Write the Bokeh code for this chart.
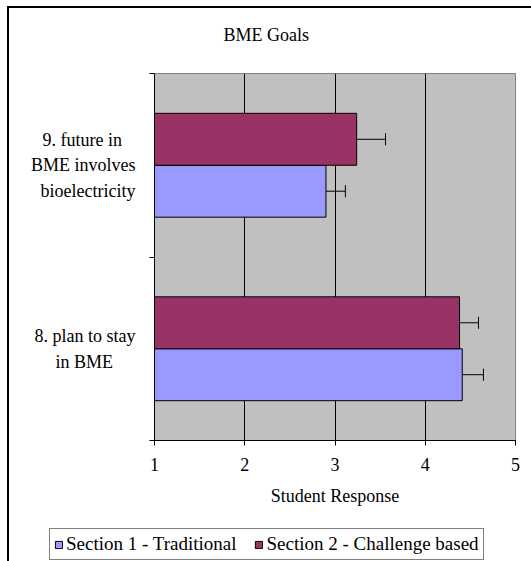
from bokeh.plotting import figure
from bokeh.layouts import column
from bokeh.models import (FactorRange, Range1d, LinearAxis, CategoricalAxis, FixedTicker,
                          ColumnDataSource, Whisker, TeeHead, Legend, LegendItem)
from bokeh.transform import dodge
from bokeh.embed import file_html
from bokeh.resources import INLINE

# ---- data ----
categories = ["8. plan to stay\nin BME", "9. future in\nBME involves\nbioelectricity"]
series_names = ["Section 1 - Traditional", "Section 2 - Challenge based"]
section1 = [4.41, 2.90]
section1_err = [0.235, 0.215]
section2 = [4.38, 3.24]
section2_err = [0.21, 0.32]
x_ticks = [1, 2, 3, 4, 5]
title_text = "BME Goals"
x_label = "Student Response"

FONT = "Liberation Serif"
BAR_H = 0.283
BLUE = "#9999FF"
MAROON = "#993366"
NB = "\u00a0"
# trailing no-break spaces so the right-anchored multi-line labels look centred
label_pad = {categories[0]: [0, 5], categories[1]: [3, 0, 0]}
factors = ["\n".join(line + NB * n for line, n in zip(c.split("\n"), label_pad[c]))
           for c in categories]

p = figure(width=531, height=520,
           y_range=FactorRange(*factors), x_range=Range1d(1, 5),
           output_backend="svg", toolbar_location=None, y_axis_location=None,
           min_border_left=154, min_border_right=16, min_border_top=73, min_border_bottom=80,
           background_fill_color="#C0C0C0", border_fill_color="white", border_fill_alpha=0.0,
           outline_line_color="#808080", outline_line_width=1)
xa = p.below[0]

# title (with an invisible spacer axis between title and plot area)
spacer = LinearAxis(ticker=FixedTicker(ticks=x_ticks, minor_ticks=[]), axis_line_color=None,
                    major_tick_line_color=None, minor_tick_line_color=None,
                    major_tick_out=20, major_tick_in=0, minor_tick_out=0, minor_tick_in=0,
                    major_label_standoff=0, major_label_text_font_size="0px",
                    major_label_text_color=None)
p.add_layout(spacer, "above")
p.title.text = title_text
p.title.align = "left"
p.title.offset = 69
p.title.text_font = FONT
p.title.text_font_size = "18px"
p.title.text_font_style = "normal"
p.title.text_color = "black"
p.title.standoff = 18

# x axis
xa.ticker = FixedTicker(ticks=x_ticks, minor_ticks=[])
xa.axis_label = x_label
xa.axis_label_text_font = FONT
xa.axis_label_text_font_size = "18px"
xa.axis_label_text_font_style = "normal"
xa.axis_label_text_color = "black"
xa.axis_label_standoff = 12
xa.major_label_text_font = FONT
xa.major_label_text_font_size = "18px"
xa.major_label_text_color = "black"
xa.major_label_standoff = 12
xa.major_tick_out = 5
xa.major_tick_in = 0
xa.minor_tick_line_color = None
xa.axis_line_color = "black"
xa.major_tick_line_color = "black"

p.xgrid.grid_line_color = "black"
p.xgrid.grid_line_width = 1
p.ygrid.grid_line_color = None

# y axis: boundary tick marks (between categories) + category labels
tick_axis = LinearAxis(ticker=FixedTicker(ticks=[], minor_ticks=list(range(len(categories) + 1))),
                       minor_tick_out=5, minor_tick_in=0, minor_tick_line_color="black",
                       major_tick_line_color=None, axis_line_color="black",
                       major_label_standoff=0)
p.add_layout(tick_axis, "left")
cat_axis = CategoricalAxis(axis_line_color=None, major_tick_line_color=None,
                           major_tick_out=0, major_tick_in=0,
                           major_label_text_font=FONT, major_label_text_font_size="18px",
                           major_label_text_color="black", major_label_text_line_height=1.28,
                           major_label_standoff=14)
p.add_layout(cat_axis, "left")

# bars
src1 = ColumnDataSource(dict(cat=factors, val=section1,
                             lo=[v - e for v, e in zip(section1, section1_err)],
                             hi=[v + e for v, e in zip(section1, section1_err)]))
src2 = ColumnDataSource(dict(cat=factors, val=section2,
                             lo=[v - e for v, e in zip(section2, section2_err)],
                             hi=[v + e for v, e in zip(section2, section2_err)]))

r1 = p.hbar(y=dodge("cat", -BAR_H / 2, range=p.y_range), right="val", left=1, height=BAR_H,
            fill_color=BLUE, line_color="black", line_width=1, source=src1)
r2 = p.hbar(y=dodge("cat", BAR_H / 2, range=p.y_range), right="val", left=1, height=BAR_H,
            fill_color=MAROON, line_color="black", line_width=1, source=src2)

for src, off in ((src1, -BAR_H / 2), (src2, BAR_H / 2)):
    w = Whisker(base=dodge("cat", off, range=p.y_range), lower="lo", upper="hi",
                dimension="width", source=src, line_color="black", line_width=1,
                upper_head=TeeHead(size=12, line_color="black", line_width=1),
                lower_head=TeeHead(size=12, line_color="black", line_width=1))
    p.add_layout(w)

# legend strip below the chart (own small figure, swatch renderers lie outside its view)
q = figure(width=531, height=41, x_range=Range1d(0, 1), y_range=Range1d(0, 1),
           output_backend="svg", toolbar_location=None, frame_align=False,
           x_axis_location=None, y_axis_location=None,
           min_border_left=41, min_border_right=0, min_border_top=0, min_border_bottom=0,
           background_fill_alpha=0.0, border_fill_alpha=0.0, outline_line_color=None)
q.grid.visible = False
lr1 = q.hbar(y=[-5], left=[0], right=[1], height=0.1, fill_color=BLUE, line_color="black")
lr2 = q.hbar(y=[-5], left=[0], right=[1], height=0.1, fill_color=MAROON, line_color="black")
legend = Legend(items=[LegendItem(label=series_names[0], renderers=[lr1]),
                       LegendItem(label=series_names[1], renderers=[lr2])],
                location="top_left", orientation="horizontal",
                label_text_font=FONT, label_text_font_size="19px", label_text_color="black",
                glyph_width=9, glyph_height=9, label_standoff=3, spacing=18,
                padding=4, margin=8, border_line_color="black", border_line_width=1,
                background_fill_color="white", background_fill_alpha=1.0)
q.add_layout(legend)

layout = column(p, q, spacing=0,
                styles={"box-shadow": "inset 7px 6px 0px 0px white, inset 9px 8px 0px 0px black",
                        "background-color": "white"})

open("out.html", "w").write(file_html(layout, INLINE))
